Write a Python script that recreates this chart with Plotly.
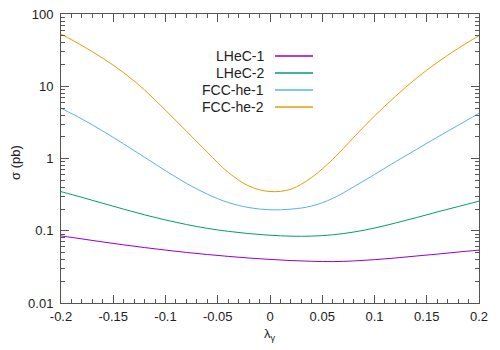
import plotly.graph_objects as go

# ---- data ----
lam = [-0.20, -0.18, -0.16, -0.14, -0.12, -0.10, -0.08, -0.06, -0.04, -0.02,
       0.00, 0.02, 0.04, 0.06, 0.08, 0.10, 0.12, 0.14, 0.16, 0.18, 0.20]

lhec1 = [0.0849, 0.0771, 0.0700, 0.0638, 0.0585, 0.0540, 0.0501, 0.0469, 0.0442, 0.0419,
         0.0401, 0.0387, 0.0378, 0.0374, 0.0382, 0.0398, 0.0420, 0.0447, 0.0475, 0.0507, 0.0540]
lhec2 = [0.348, 0.290, 0.240, 0.199, 0.166, 0.141, 0.122, 0.108, 0.0982, 0.0912,
         0.0867, 0.0841, 0.0843, 0.0879, 0.0959, 0.109, 0.128, 0.152, 0.182, 0.216, 0.257]
fcc1 = [4.97, 3.52, 2.40, 1.59, 1.04, 0.678, 0.453, 0.321, 0.246, 0.209,
        0.195, 0.199, 0.220, 0.280, 0.405, 0.600, 0.902, 1.33, 1.97, 2.88, 4.22]
fcc2 = [52.8, 36.6, 24.4, 15.4, 8.87, 4.66, 2.39, 1.22, 0.643, 0.415,
        0.349, 0.376, 0.548, 0.975, 1.95, 3.88, 7.23, 12.9, 21.3, 33.4, 50.1]

series_names = ["LHeC-1", "LHeC-2", "FCC-he-1", "FCC-he-2"]
series_values = [lhec1, lhec2, fcc1, fcc2]
series_colors = ["#9400d3", "#009e73", "#56b4e9", "#e69f00"]

x_tickvals = [-0.2, -0.15, -0.1, -0.05, 0, 0.05, 0.1, 0.15, 0.2]
x_ticktext = ["-0.2", "-0.15", "-0.1", "-0.05", "0", "0.05", "0.1", "0.15", "0.2"]
y_tickvals = [0.01, 0.1, 1, 10, 100]
y_ticktext = ["0.01", "0.1", "1", "10", "100"]
y_minor = [m * 10 ** e for e in (-2, -1, 0, 1) for m in range(2, 10)]
x_minor = [round(-0.2 + 0.01 * i, 2) for i in range(41)]

FONT = "Liberation Sans, Arial, sans-serif"
AX = "#555555"
TXT = "#222222"

fig = go.Figure()
for name, vals, col in zip(series_names, series_values, series_colors):
    fig.add_trace(go.Scatter(x=lam, y=vals, mode="lines", name=name,
                             line=dict(color=col, width=1, shape="spline"),
                             showlegend=False))

# page body has an 8px margin: size the figure so it fits the 500x350 window
OFF = 8
W, H = 500 - OFF, 350 - OFF
# plot area in window pixels: x 61..479, y 14..303
L = 61 - OFF
T = 14 - OFF
R = W - (479 - OFF)
B = H - (303 - OFF)
pw, ph = W - L - R, H - T - B


def px2x(p):
    return (p - OFF - L) / pw


def px2y(p):
    return (H - B - (p - OFF)) / ph


# gnuplot-style legend: text right-aligned, line sample to the right
leg_y = [56, 73, 90, 107]
for name, col, yy in zip(series_names, series_colors, leg_y):
    fig.add_annotation(x=px2x(266), y=px2y(yy), xref="paper", yref="paper",
                       text=name, showarrow=False, xanchor="right", yanchor="middle",
                       font=dict(family=FONT, size=14, color=TXT))
    fig.add_shape(type="line", xref="paper", yref="paper",
                  x0=px2x(275), x1=px2x(313), y0=px2y(yy), y1=px2y(yy),
                  line=dict(color=col, width=1.5))

fig.add_annotation(x=px2x(15), y=px2y(163), xref="paper", yref="paper",
                   text="σ (pb)", textangle=-90, showarrow=False,
                   xanchor="center", yanchor="middle",
                   font=dict(family=FONT, size=13, color=TXT))
fig.add_annotation(x=0.5, y=px2y(334), xref="paper", yref="paper",
                   text="λ<sub>γ</sub>", showarrow=False,
                   xanchor="center", yanchor="middle",
                   font=dict(family=FONT, size=13, color=TXT))

fig.update_xaxes(range=[-0.2, 0.2], tickmode="array", tickvals=x_tickvals, ticktext=x_ticktext,
                 ticks="inside", ticklen=8, tickcolor=AX, showline=True, linecolor=AX, linewidth=1,
                 mirror="allticks", showgrid=False, zeroline=False, ticklabeloverflow="allow",
                 ticklabelstandoff=1,
                 minor=dict(tickmode="array", tickvals=x_minor, ticks="inside", ticklen=4,
                            tickcolor=AX, showgrid=False),
                 tickfont=dict(family=FONT, size=13, color=TXT))
fig.update_yaxes(type="log", range=[-2, 2], tickmode="array", tickvals=y_tickvals, ticktext=y_ticktext,
                 ticks="inside", ticklen=8, tickcolor=AX, showline=True, linecolor=AX, linewidth=1,
                 mirror="allticks", showgrid=False, zeroline=False, ticklabeloverflow="allow",
                 ticklabelstandoff=4,
                 minor=dict(tickmode="array", tickvals=y_minor, ticks="inside", ticklen=4,
                            tickcolor=AX, showgrid=False),
                 tickfont=dict(family=FONT, size=13, color=TXT))

fig.update_layout(width=W, height=H, margin=dict(l=L, r=R, t=T, b=B, autoexpand=False),
                  plot_bgcolor="white", paper_bgcolor="white", showlegend=False)

fig.write_html("out.html")
